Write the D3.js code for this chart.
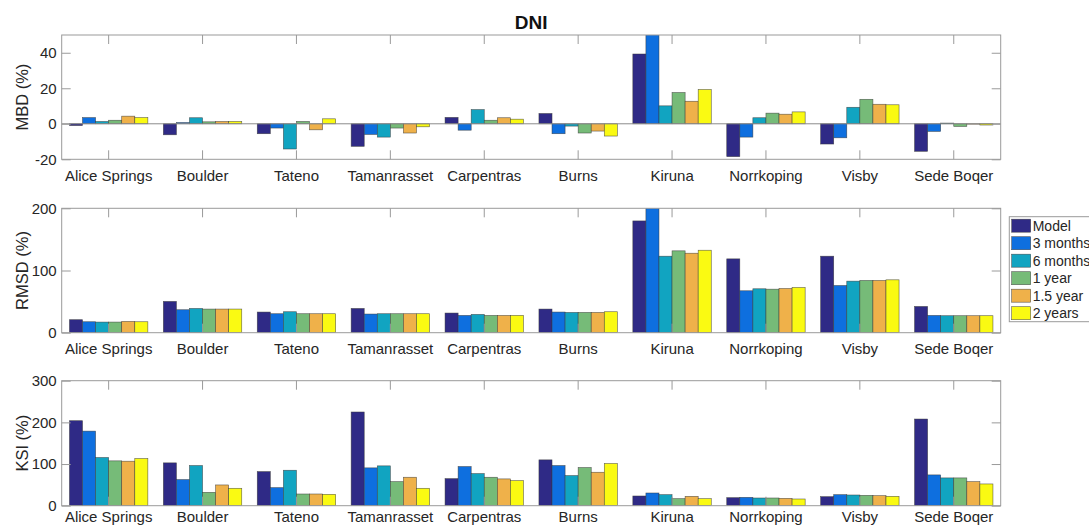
<!DOCTYPE html>
<html>
<head>
<meta charset="utf-8">
<script src="https://cdn.jsdelivr.net/npm/d3@7"></script>
<style>
  body { margin: 0; background: #fff; }
  svg { display: block; font-family: "Liberation Sans", Arial, sans-serif; }
  .tick line { stroke: #9a9a9a; }
  .tick text { fill: #262626; font-size: 15px; }
</style>
</head>
<body>
<svg id="chart" width="1089" height="526"></svg>
<script>

const stations = ['Alice Springs', 'Boulder', 'Tateno', 'Tamanrasset', 'Carpentras',
  'Burns', 'Kiruna', 'Norrkoping', 'Visby', 'Sede Boqer'];

const series = ['Model', '3 months', '6 months', '1 year', '1.5 year', '2 years'];

// One row per station, one column per series.
const mbd = [
  [-1, 3.5, 1.3, 2, 4.3, 3.5],
  [-6.2, 0.7, 3.4, 1.1, 1.3, 1.3],
  [-5.6, -2.4, -14.2, 1.3, -3.4, 2.8],
  [-12.7, -6, -7.5, -2.4, -5.2, -1.7],
  [3.6, -3.6, 8, 2, 3.4, 2.6],
  [5.8, -5.6, -1.3, -5.2, -4.1, -6.9],
  [39.3, 56, 10.1, 17.6, 12.7, 19.3],
  [-18.5, -7.5, 3.4, 6, 5.4, 6.7],
  [-11.4, -7.9, 9.3, 13.8, 11, 10.7],
  [-15.5, -4.3, 0.4, -1.5, -0.2, -0.7]
];

const rmsd = [
  [20.9, 17.6, 17.1, 17.1, 18.2, 17.6],
  [50.3, 36.9, 39, 38, 38, 38],
  [33.2, 30.5, 33.7, 30.5, 30.5, 30.5],
  [39, 30, 30.5, 30.5, 30.5, 30.5],
  [31.6, 27.8, 29.4, 27.8, 27.8, 27.8],
  [38, 33.2, 32.6, 32.6, 32.6, 33.7],
  [179.7, 215, 123, 131.6, 127.8, 132.6],
  [118.7, 67.4, 70.6, 70, 71.1, 72.7],
  [123, 75.9, 82.9, 84, 84, 85],
  [42.2, 27.8, 27.3, 27.3, 27.3, 27.3]
];

const ksi = [
  [204, 179, 115.7, 107.6, 106.8, 113.3],
  [102.8, 62.7, 96.4, 32.1, 49.8, 41.8],
  [81.9, 43.4, 85.1, 28.1, 28.1, 27.3],
  [224.9, 90.8, 95.6, 57.8, 68.3, 41.8],
  [65, 94, 77.1, 68.3, 64.3, 60.2],
  [110, 96.4, 72.3, 91.6, 80.3, 101.2],
  [23.3, 30.5, 26.5, 16.9, 22.5, 16.9],
  [19.3, 20.1, 18.5, 18.5, 17.7, 16.1],
  [21.7, 26.5, 25.7, 24.9, 24.1, 22.5],
  [208, 73.9, 66.7, 66.7, 57.8, 52.2]
];

const mbdTicks = [-20, 0, 20, 40];
const rmsdTicks = [0, 100, 200];
const ksiTicks = [0, 100, 200, 300];

const colors = ['#2f2a86', '#0e6fdf', '#11a4c1', '#76bb78', '#efb14a', '#fafa12'];


const svg = d3.select('#chart');

const left = 61.7;
const right = 1000.7;

const x = d3.scaleBand()
  .domain(stations)
  .range([left, right]);

// Bars in a group are touching and fill ~83% of the band.
const groupGap = x.bandwidth() * (1 - 0.835) / 2;
const xBar = d3.scaleBand()
  .domain(series)
  .range([groupGap, x.bandwidth() - groupGap]);

const color = d3.scaleOrdinal().domain(series).range(colors);

// The last panel's labels sit a little higher so they stay on the page.
const panels = [
  { label: 'MBD (%)', values: mbd, domain: [-20, 50], ticks: mbdTicks, top: 35, bottom: 159.3, pad: 11 },
  { label: 'RMSD (%)', values: rmsd, domain: [0, 200], ticks: rmsdTicks, top: 208.3, bottom: 332.7, pad: 11 },
  { label: 'KSI (%)', values: ksi, domain: [0, 300], ticks: ksiTicks, top: 380.7, bottom: 505.7, pad: 5.5 }
];


/**
 * Draw one axes box with its bars.
 *
 * @param {Object} p
 * @param {Number} i
 */
function drawPanel(p, i) {

  let y = d3.scaleLinear().domain(p.domain).range([p.bottom, p.top]);
  let g = svg.append('g');

  let clipId = 'clip' + i;
  svg.append('clipPath').attr('id', clipId)
    .append('rect')
    .attr('x', left).attr('y', p.top)
    .attr('width', right - left).attr('height', p.bottom - p.top);

  // The bars.
  let bars = g.append('g').attr('clip-path', 'url(#' + clipId + ')');

  stations.forEach((s, si) => {
    bars.selectAll(null)
      .data(p.values[si].map((v, k) => ({ key: series[k], value: v })))
      .join('rect')
      .attr('x', d => x(s) + xBar(d.key))
      .attr('width', xBar.bandwidth())
      .attr('y', d => y(Math.max(0, d.value)))
      .attr('height', d => Math.abs(y(d.value) - y(0)))
      .attr('fill', d => color(d.key))
      .attr('stroke', '#3a3a3a')
      .attr('stroke-opacity', 0.8)
      .attr('stroke-width', 0.6);
  });

  // Baseline at zero.
  if (p.domain[0] < 0) {
    g.append('line')
      .attr('x1', left).attr('x2', right)
      .attr('y1', y(0)).attr('y2', y(0))
      .attr('stroke', '#8c8c8c');
  }

  // Axes, ticks pointing inward. Plain hyphen for negatives, as in MATLAB.
  g.append('g')
    .attr('transform', `translate(${left},0)`)
    .call(d3.axisLeft(y).tickValues(p.ticks).tickFormat(d => String(d))
      .tickSizeInner(-9).tickSizeOuter(0).tickPadding(5))
    .call(a => a.select('.domain').remove());

  g.append('g')
    .attr('transform', `translate(${right},0)`)
    .call(d3.axisRight(y).tickValues(p.ticks).tickSizeInner(-9).tickSizeOuter(0).tickFormat(''))
    .call(a => a.select('.domain').remove());

  g.append('g')
    .attr('transform', `translate(0,${p.bottom})`)
    .call(d3.axisBottom(x).tickSizeInner(-9).tickSizeOuter(0).tickPadding(p.pad))
    .call(a => a.select('.domain').remove());

  g.append('g')
    .attr('transform', `translate(0,${p.top})`)
    .call(d3.axisTop(x).tickSizeInner(-9).tickSizeOuter(0).tickFormat(''))
    .call(a => a.select('.domain').remove());

  g.selectAll('.tick text').attr('font-family', null).attr('font-size', null);

  // The box.
  g.append('rect')
    .attr('x', left).attr('y', p.top)
    .attr('width', right - left).attr('height', p.bottom - p.top)
    .attr('fill', 'none')
    .attr('stroke', '#9a9a9a');

  // Y label.
  g.append('text')
    .attr('transform', `translate(28,${(p.top + p.bottom) / 2}) rotate(-90)`)
    .attr('text-anchor', 'middle')
    .attr('font-size', 16.5)
    .attr('fill', '#262626')
    .text(p.label);

}

panels.forEach(drawPanel);


// Title.
svg.append('text')
  .attr('x', (left + right) / 2)
  .attr('y', 29.3)
  .attr('text-anchor', 'middle')
  .attr('font-size', 19)
  .attr('font-weight', 'bold')
  .attr('fill', '#111')
  .text('DNI');


// Legend, next to the middle panel.
let legend = svg.append('g').attr('transform', 'translate(1009.3,216.7)');

legend.append('rect')
  .attr('width', 100).attr('height', 105)
  .attr('fill', '#fff')
  .attr('stroke', '#9a9a9a');

let rows = legend.selectAll('g.row')
  .data(series)
  .join('g')
  .attr('class', 'row')
  .attr('transform', (d, i) => `translate(0,${9 + i * 17.5})`);

rows.append('rect')
  .attr('x', 2.4).attr('y', -6.5)
  .attr('width', 19).attr('height', 13)
  .attr('fill', d => color(d))
  .attr('stroke', '#3a3a3a')
  .attr('stroke-opacity', 0.8)
  .attr('stroke-width', 0.6);

rows.append('text')
  .attr('x', 23.4)
  .attr('dy', '0.35em')
  .attr('font-size', 14)
  .attr('fill', '#262626')
  .text(d => d);

</script>
</body>
</html>
